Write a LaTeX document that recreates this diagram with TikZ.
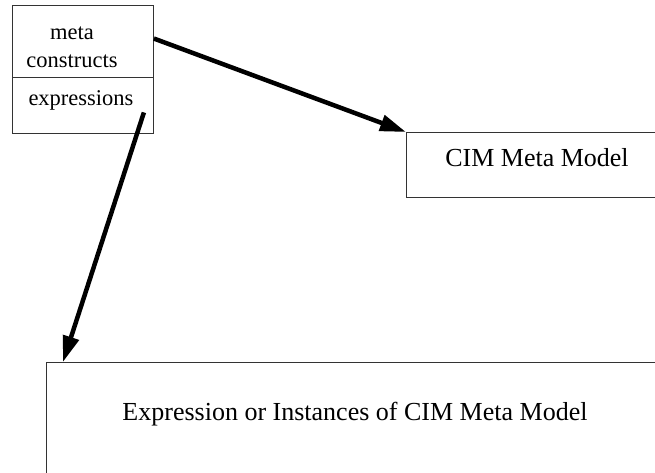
\documentclass[tikz,border=0pt]{standalone}
\usepackage{fontspec}
\setmainfont{Liberation Serif}
\usetikzlibrary{arrows.meta,calc}
\begin{document}
\begin{tikzpicture}[x=1pt,y=-1pt,
  boxframe/.style={draw=black!80,line width=0.9pt,inner sep=0pt,anchor=north west},
  smalltext/.style={font=\fontsize{22.5}{28}\selectfont,inner sep=0pt,anchor=base,align=center},
  bigtext/.style={font=\fontsize{26}{30}\selectfont,inner sep=0pt,anchor=base},
  flow/.style={line width=4.5pt,-{Triangle[length=26pt,width=16pt]}}]
\path[use as bounding box,clip] (0,0) rectangle (655,472);
\fill[white] (0,0) rectangle (655,472);

% two-part box: meta constructs / expressions
\node[boxframe,minimum width=141pt,minimum height=72pt] (mc) at (12,5) {};
\node[boxframe,minimum width=141pt,minimum height=56pt] (ex) at (12,77) {};
% base anchor of a two-line node sits on the last line
\node[smalltext] (mctext) at (72,67) {meta\\constructs};
\node[smalltext] (extext) at (81,105) {expressions};

% CIM Meta Model box (runs past the right border)
\node[boxframe,minimum width=260pt,minimum height=65pt] (cim) at (406,132) {};
\node[bigtext] (cimtext) at (537,166) {CIM Meta Model};

% instances box (runs past the right and lower borders)
\node[boxframe,minimum width=620pt,minimum height=120pt] (inst) at (46,362) {};
\node[bigtext] (insttext) at (355,420) {Expression or Instances of CIM Meta Model};

% connectors
\coordinate (s1) at ($(mc.north east)!0.46!(mc.south east)$);
\coordinate (s2) at ($(ex.east)+(-10,7)$);
\coordinate (e2) at ($(inst.north west)+(17,0)$);
\draw[flow] (s1) -- (cim.north west);
\draw[flow] (s2) -- (e2);
\end{tikzpicture}
\end{document}
